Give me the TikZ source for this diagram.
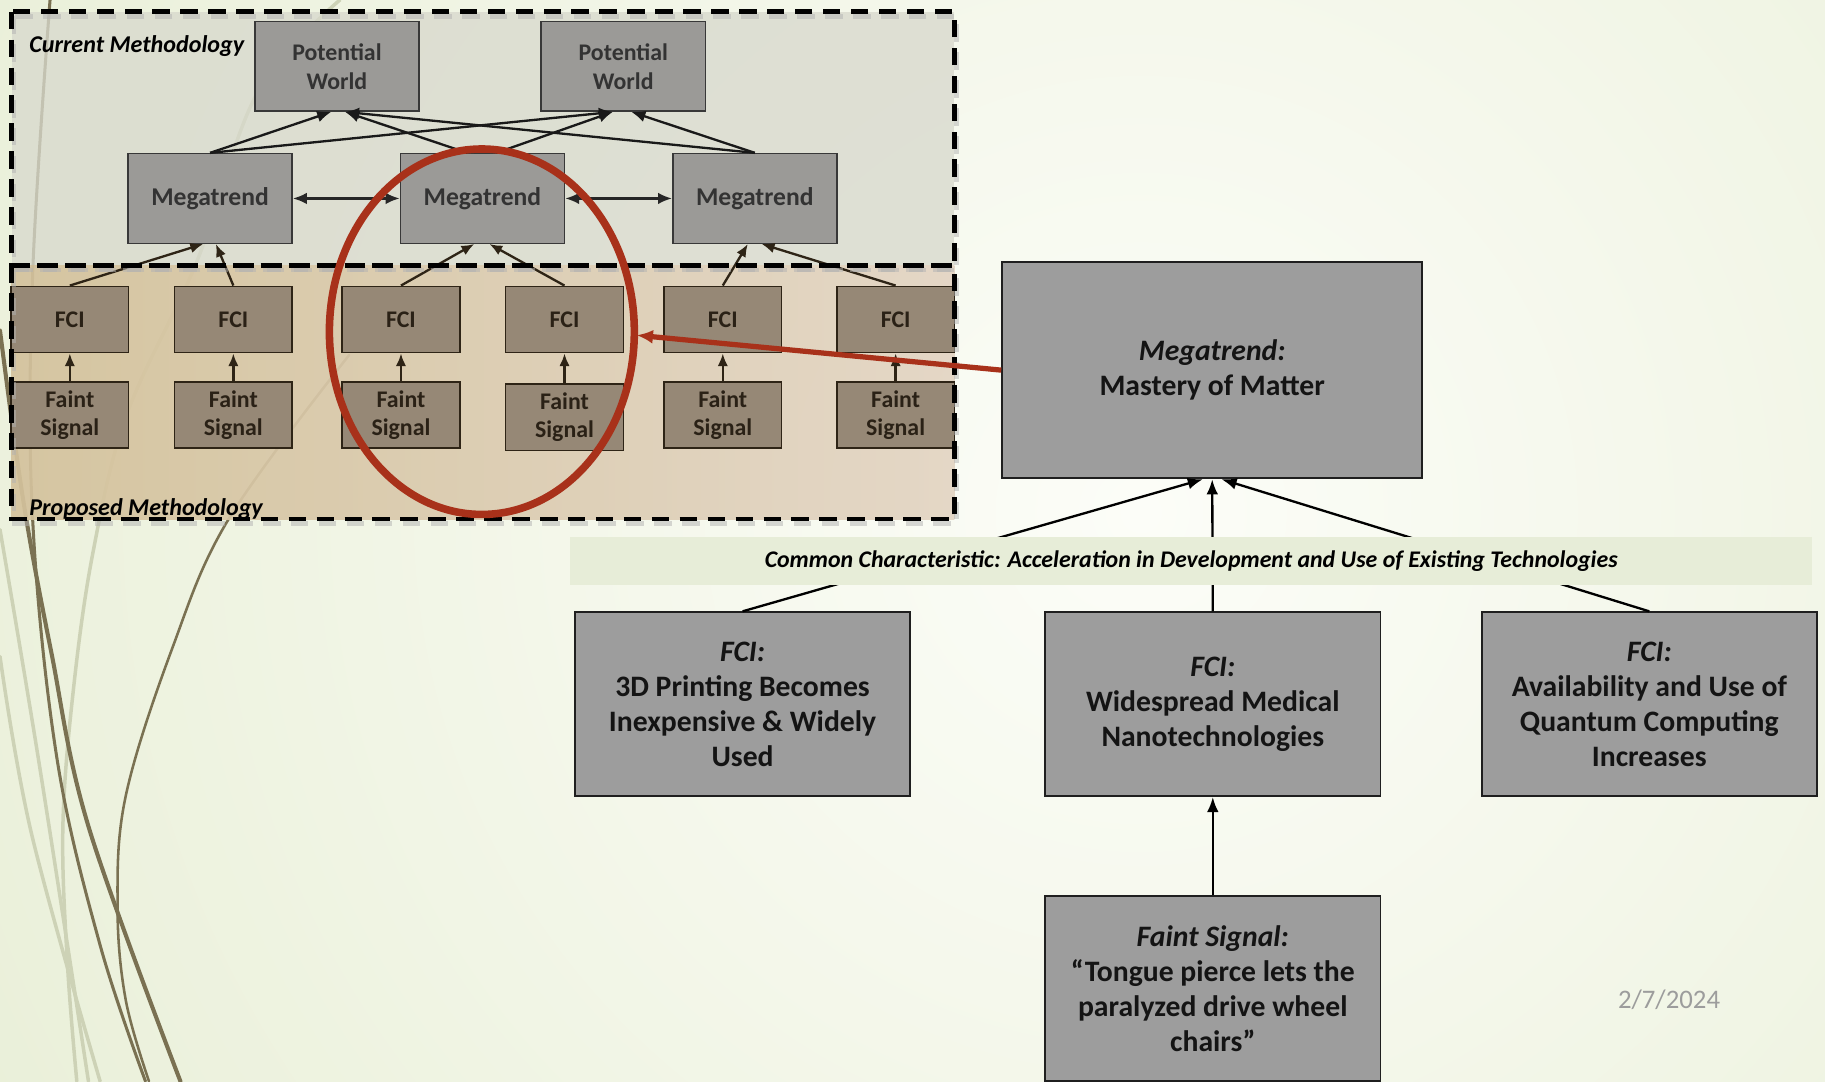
\documentclass[tikz,border=0pt]{standalone}
\usepackage{fontspec}
\setmainfont{Carlito}
\usetikzlibrary{arrows.meta}

\definecolor{bgin}{HTML}{FCFDF8}
\definecolor{bgout}{HTML}{DBE5C0}
\definecolor{wispdark}{HTML}{7A7152}
\definecolor{wisplight}{HTML}{CDD2B6}
\definecolor{upperfill}{HTML}{D8D9CD}
\definecolor{lowerleft}{HTML}{D4C29C}
\definecolor{lowerright}{HTML}{E3D4C3}
\definecolor{boxgray}{HTML}{9B9A97}
\definecolor{toptext}{HTML}{333333}
\definecolor{lowfill}{HTML}{968876}
\definecolor{lowline}{HTML}{2E2416}
\definecolor{lowtext}{HTML}{2A2116}
\definecolor{biggray}{HTML}{9D9D9D}
\definecolor{bannerfill}{HTML}{E7EDD8}
\definecolor{markred}{HTML}{A8311A}
\definecolor{datetext}{HTML}{9C9C9C}

\begin{document}
\begin{tikzpicture}[x=1pt,y=-1pt,
  topbox/.style={draw=black!78, fill=boxgray, line width=1.3pt,
    minimum width=141pt, minimum height=77pt, inner sep=0pt, align=center,
    text=toptext, font=\fontsize{20.5}{25}\selectfont\bfseries},
  megafont/.style={font=\fontsize{22}{25}\selectfont\bfseries},
  lowbox/.style={draw=lowline, fill=lowfill, line width=1.3pt,
    minimum width=101pt, minimum height=57pt, inner sep=0pt, align=center,
    text=lowtext, font=\fontsize{20.5}{24.5}\selectfont\bfseries},
  bigbox/.style={draw=black!88, fill=biggray, line width=1.5pt,
    minimum width=288pt, minimum height=158pt, inner sep=0pt, align=center,
    text=black!92, font=\fontsize{25.5}{30}\selectfont\bfseries},
  regionlabel/.style={anchor=west, inner sep=0pt, text=black,
    font=\fontsize{20.7}{24}\selectfont\bfseries\itshape},
  arr/.style={-{Latex[length=12pt,width=10pt]}, line width=2pt, draw=black!90},
  arrboth/.style={{Latex[length=12pt,width=10pt]}-{Latex[length=12pt,width=10pt]}, line width=2pt, draw=black!85},
  arrlow/.style={-{Latex[length=11pt,width=9pt]}, line width=2pt, draw=lowline},
  arrbig/.style={-{Latex[length=13pt,width=10pt]}, line width=2pt, draw=black},
  dashedframe/.style={dash pattern=on 15pt off 9pt, line width=4pt},
  wisp/.style={line width=#1, line cap=round},
]
\useasboundingbox (0,0) rectangle (1568,929);

% slide background
\begin{scope}
  \clip (0,0) rectangle (1568,929);
  \shade[inner color=bgin, outer color=bgout] (980,440) circle (2000);
\end{scope}

% decorative wisps on the left
\draw[wisplight, wisp=3pt] plot[smooth, tension=0.6] coordinates
  {(292,0) (221,80) (169,225) (109,356) (80,474) (63,593) (54,711) (58,829) (66,929)};
\draw[wisplight, wisp=3pt] plot[smooth, tension=0.6] coordinates
  {(0,455) (33,652) (76,929)};
\draw[wisplight, wisp=3pt] plot[smooth, tension=0.6] coordinates
  {(0,564) (27,716) (86,929)};
\draw[wispdark, wisp=3.5pt] plot[smooth, tension=0.6] coordinates
  {(0,284) (20,430) (44,560) (76,710) (155,929)};
\draw[wispdark, wisp=2.6pt] plot[smooth, tension=0.6] coordinates
  {(43,0) (28,237) (28,445) (49,652) (86,812) (125,929)};
\draw[wispdark, wisp=2.2pt] plot[smooth, tension=0.6] coordinates
  {(300,305) (197,445) (148,557) (108,684) (101,779) (108,859) (128,929)};

% methodology regions
\fill[upperfill, opacity=0.78] (10,10) rectangle (820,228);
\shade[left color=lowerleft, right color=lowerright, opacity=0.92] (10,228) rectangle (820,446);

\node[regionlabel] (curlbl) at (25,40) {Current Methodology};
\node[regionlabel] (prolbl) at (25,437) {Proposed Methodology};

% current methodology: potential worlds and megatrends
\node[topbox] (pw1) at (289.5,57) {Potential\\World};
\node[topbox] (pw2) at (535.5,57) {Potential\\World};
\node[topbox, megafont] (m1) at (180.5,170.5) {Megatrend};
\node[topbox, megafont] (m2) at (414.5,170.5) {Megatrend};
\node[topbox, megafont] (m3) at (648.5,170.5) {Megatrend};

\draw[arr] (m1.north) -- ([xshift=-5pt]pw1.south);
\draw[arr] (m1.north) -- ([xshift=-9pt]pw2.south);
\draw[arr] ([xshift=-13pt]m2.north) -- ([xshift=7pt]pw1.south);
\draw[arr] ([xshift=12pt]m2.north) -- ([xshift=-9pt]pw2.south);
\draw[arr] (m3.north) -- ([xshift=7pt]pw1.south);
\draw[arr] (m3.north) -- ([xshift=7pt]pw2.south);
\draw[arrboth] (m1.east) -- (m2.west);
\draw[arrboth] (m2.east) -- (m3.west);

% proposed methodology: FCIs and faint signals
\foreach \n/\x in {1/60, 2/200.5, 3/344.5, 4/485, 5/621, 6/769.5} {
  \node[lowbox] (f\n) at (\x,274.5) {FCI};
}
\foreach \n/\x/\y in {1/60/356.5, 2/200.5/356.5, 3/344.5/356.5, 4/485/358.5, 5/621/356.5, 6/769.5/356.5} {
  \node[lowbox] (s\n) at (\x,\y) {Faint\\Signal};
  \draw[arrlow] (s\n.north) -- (f\n.south);
}

\draw[arrlow] (f1.north) -- ([xshift=-6pt]m1.south);
\draw[arrlow] (f2.north) -- ([xshift=5pt]m1.south);
\draw[arrlow] (f3.north) -- ([xshift=-7pt]m2.south);
\draw[arrlow] (f4.north) -- ([xshift=6pt]m2.south);
\draw[arrlow] (f5.north) -- ([xshift=-6pt]m3.south);
\draw[arrlow] (f6.north) -- ([xshift=6pt]m3.south);

% dashed frames with a soft drop shadow
\draw[dashedframe, black!30, opacity=0.5] (12,14) rectangle (822,232);
\draw[dashedframe, black!30, opacity=0.5] (12,232) rectangle (822,450);
\draw[dashedframe, black] (10,10) rectangle (820,228);
\draw[dashedframe, black] (10,228) rectangle (820,446);

% highlight around the second megatrend
\draw[markred, line width=6.5pt] (414,285) ellipse [x radius=131, y radius=157];

% worked example
\node[bigbox, minimum width=361pt, minimum height=186pt] (mm) at (1041.5,318)
  {{\itshape Megatrend:}\\Mastery of Matter};
\node[bigbox] (fa) at (638,605)
  {{\itshape FCI:}\\3D Printing Becomes\\Inexpensive \& Widely\\Used};
\node[bigbox] (fb) at (1042,605)
  {{\itshape FCI:}\\Widespread Medical\\Nanotechnologies};
\node[bigbox] (fc) at (1417,605)
  {{\itshape FCI:}\\Availability and Use of\\Quantum Computing\\Increases};
\node[bigbox, minimum height=159pt] (fs) at (1042,849.5)
  {{\itshape Faint Signal:}\\“Tongue pierce lets the\\paralyzed drive wheel\\chairs”};

\draw[arrbig] (fa.north) -- ([xshift=-8pt]mm.south);
\draw[arrbig] (fb.north) -- (mm.south);
\draw[arrbig] (fc.north) -- ([xshift=8pt]mm.south);
\draw[arrbig] (fs.north) -- (fb.south);

\node[fill=bannerfill, minimum width=1067pt, minimum height=42pt, inner sep=0pt,
  font=\fontsize{20.5}{23}\selectfont\bfseries\itshape, text=black] (banner) at (1023.5,482)
  {Common Characteristic: Acceleration in Development and Use of Existing Technologies};

% pointer from the example back to the circled FCI
\coordinate (tip) at (547,288);
\draw[markred, line width=4.5pt, -{Latex[length=14pt,width=12pt]}] (mm.west) -- (tip);

\node[text=datetext, font=\fontsize{23}{26}\selectfont, inner sep=0pt] (date) at (1434,859) {2/7/2024};
\end{tikzpicture}
\end{document}
